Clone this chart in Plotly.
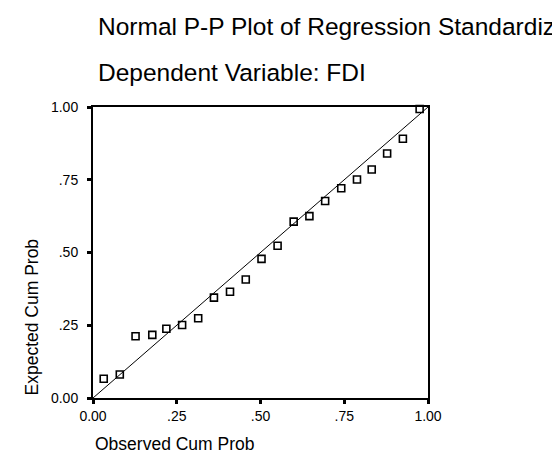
import plotly.graph_objects as go

observed = [0.032, 0.080, 0.127, 0.177, 0.219, 0.266, 0.314, 0.361, 0.409, 0.456,
            0.503, 0.551, 0.599, 0.646, 0.693, 0.741, 0.788, 0.832, 0.878, 0.925, 0.975]
expected = [0.066, 0.081, 0.212, 0.217, 0.238, 0.251, 0.274, 0.345, 0.365, 0.407,
            0.478, 0.523, 0.606, 0.625, 0.677, 0.721, 0.751, 0.785, 0.840, 0.891, 0.993]
ref_line = [0.0, 1.0]
tick_vals = [0.0, 0.25, 0.5, 0.75, 1.0]
tick_text = ["0.00", ".25", ".50", ".75", "1.00"]

FONT = "Liberation Sans, Arial, sans-serif"

fig = go.Figure()
fig.add_trace(go.Scatter(x=ref_line, y=ref_line, mode="lines",
                         line=dict(color="black", width=1), hoverinfo="skip",
                         showlegend=False))
fig.add_trace(go.Scatter(x=observed, y=expected, mode="markers",
                         marker=dict(symbol="square-open", size=7,
                                     color="black", line=dict(width=1.6)),
                         cliponaxis=False, showlegend=False))

axis_common = dict(range=[0, 1], tickvals=tick_vals, ticktext=tick_text,
                   showgrid=False, zeroline=False, showline=True, mirror=True,
                   linecolor="black", linewidth=2, ticks="outside", ticklen=4,
                   tickwidth=3, tickcolor="black",
                   tickfont=dict(family=FONT, size=14, color="black"))
fig.update_xaxes(**axis_common)
fig.update_yaxes(**axis_common, ticklabelstandoff=6)

fig.update_layout(
    width=560, height=457,
    margin=dict(l=85, r=140, t=99, b=67),
    plot_bgcolor="white", paper_bgcolor="white",
    font=dict(family=FONT, color="black"),
    annotations=[
        dict(text="Normal P-P Plot of Regression Standardiz",
             xref="paper", yref="paper", x=0.009, y=1.275, xanchor="left",
             yanchor="middle", showarrow=False, font=dict(size=24.5)),
        dict(text="Dependent Variable: FDI",
             xref="paper", yref="paper", x=0.009, y=1.12, xanchor="left",
             yanchor="middle", showarrow=False, font=dict(size=24.5)),
        dict(text="Observed Cum Prob", xref="paper", yref="paper", x=0.0,
             y=0, xanchor="left", yanchor="middle", yshift=-46,
             showarrow=False, font=dict(size=17.5)),
        dict(text="Expected Cum Prob", xref="paper", yref="paper", x=0,
             xshift=-62, y=0, xanchor="center", yanchor="bottom",
             textangle=-90, showarrow=False, font=dict(size=17.5)),
    ],
)

fig.write_html("out.html")
